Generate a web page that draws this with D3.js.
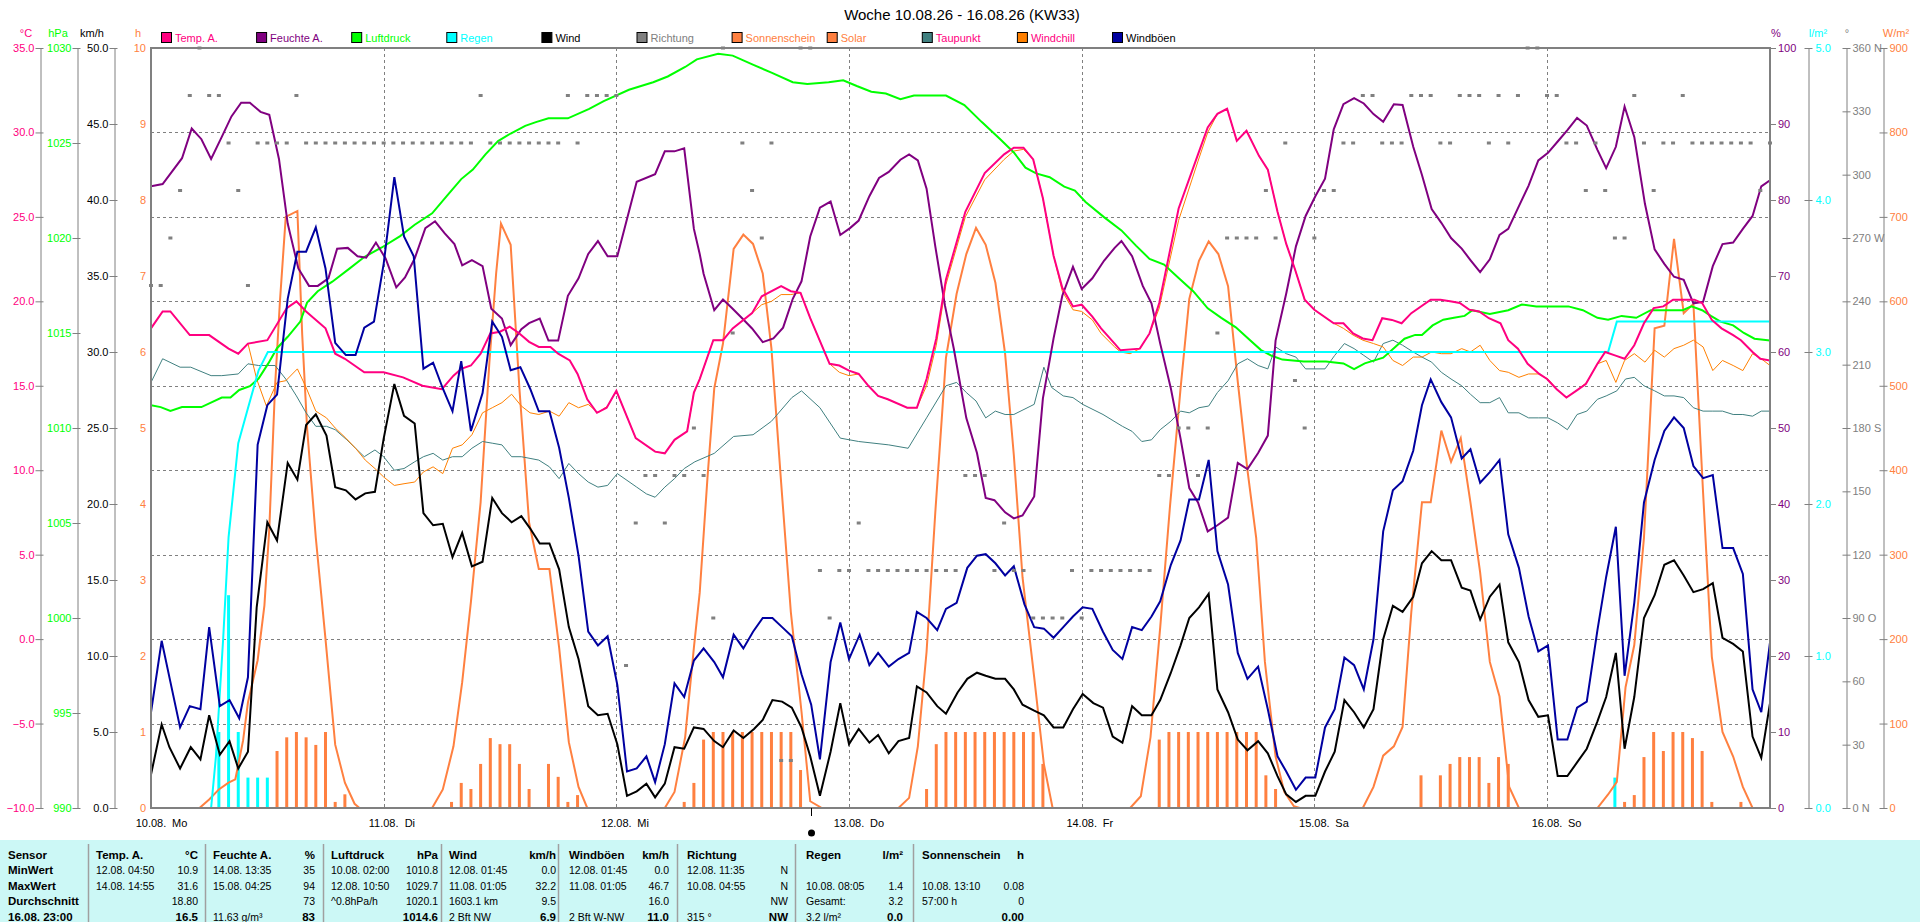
<!DOCTYPE html>
<html>
<head>
<meta charset="utf-8">
<title>Woche 10.08.26 - 16.08.26 (KW33)</title>
<script src="https://cdn.jsdelivr.net/npm/d3@7"></script>
<style>
  body { margin: 0; background: #fff; }
  svg { display: block; font-family: "Liberation Sans", Arial, sans-serif; }
</style>
</head>
<body>
<svg id="chart" width="1920" height="922"></svg>
<script>
// hours since 10.08. 00:00
const dayLabels = ['10.08.', '11.08.', '12.08.', '13.08.', '14.08.', '15.08.', '16.08.']
const weekDays = ['Mo', 'Di', 'Mi', 'Do', 'Fr', 'Sa', 'So']

const legendNames = ['Temp. A.', 'Feuchte A.', 'Luftdruck', 'Regen', 'Wind', 'Richtung', 'Sonnenschein', 'Solar', 'Taupunkt', 'Windchill', 'Windböen']
const legendBoxes = ['#ff0080', '#800080', '#00ff00', '#00ffff', '#000000', '#808080', '#ff8040', '#ff8040', '#408080', '#ff8000', '#0000a0']
const legendTexts = ['#ff0080', '#800080', '#00ff00', '#00ffff', '#000000', '#808080', '#ff8040', '#ff8040', '#ff0080', '#ff0080', '#000000']

const temp = [[0,18.4],[1.2,19.4],[2,19.4],[4,18.0],[6,18.0],[8,17.2],[9,16.9],[10,17.5],[12,17.7],[14,19.6],[15,20.0],[16,19.4],[18,18.4],[19,16.9],[20,16.6],[22,15.8],[24,15.8],[26,15.5],[28,15.0],[30,14.8],[31.2,15.6],[32,16.0],[33,16.2],[34,16.9],[35,18.1],[36,18.2],[37,18.5],[38,18.1],[39,17.6],[40,17.3],[41.2,17.3],[42,16.9],[43.2,16.5],[44,15.7],[45,14.2],[46,13.4],[47,13.7],[48,14.7],[50,11.9],[52,11.1],[53,11.0],[54,11.8],[55.3,12.3],[56,14.6],[56.6,15.4],[58,17.7],[59,17.7],[60,18.4],[62,19.3],[63,20.3],[65,20.9],[66,20.6],[67,20.5],[68,19.0],[70,16.3],[71,16.2],[72,15.9],[73,15.7],[74,15.0],[75,14.4],[76,14.2],[78,13.7],[79,13.7],[80,15.4],[81,17.8],[82,21.3],[84,25.3],[86,27.6],[88,28.7],[89,29.1],[90,29.1],[91,28.4],[92,26.1],[93.1,22.7],[94,20.8],[95.1,19.7],[96,19.8],[97.1,19.1],[98,18.4],[99.4,17.5],[100,17.1],[102,17.2],[103,18.1],[104,19.9],[106,25.5],[108,28.7],[109,30.3],[110,31.1],[111,31.4],[112,29.5],[113,30.1],[114.3,28.6],[115.2,27.8],[116.2,25.3],[117.1,23.4],[118,21.9],[119,20.1],[120,19.5],[122,18.7],[123,18.7],[124,18.1],[125,17.8],[126,17.7],[127,19.0],[128,18.9],[129,18.7],[130,19.3],[132,20.1],[133,20.1],[134,20.0],[135,19.9],[136,19.5],[137,19.4],[138,19.0],[139.2,18.7],[140,17.7],[141,17.2],[142,16.3],[143.2,15.7],[144,15.4],[145,14.8],[146,14.3],[147,14.7],[148,15.1],[149.2,16.3],[150,17.0],[151,16.8],[152,16.6],[153,17.4],[154,18.7],[155,19.6],[156,19.7],[157,20.1],[158,20.1],[159.2,20.1],[160,19.9],[161,18.9],[162,18.4],[163.2,18.0],[164,17.7],[165.2,17.0],[166,16.6],[167,16.5]]

const humidity = [[0,81.8],[1.2,82.1],[3.2,85.5],[4.2,89.4],[5.2,88.0],[6.2,85.4],[7.3,88.3],[8.3,91.0],[9.3,92.8],[10.2,92.8],[11.3,91.6],[12.2,91.2],[13.2,85.4],[14.1,76.9],[15.2,71.0],[16.3,68.7],[17.2,68.7],[18.3,69.7],[19.2,73.6],[20.3,73.7],[21.3,72.6],[22.2,72.4],[23.2,74.4],[24.2,72.3],[25.3,68.5],[26.2,69.8],[27.2,72.3],[28.3,76.3],[29.3,77.2],[30.3,75.6],[31.3,74.2],[32.1,71.4],[33.1,72.1],[34.2,71.3],[35.1,65.7],[36.2,64.4],[37.1,60.9],[38.2,63.0],[39,63.8],[40.1,64.4],[41,61.5],[42,61.5],[43,67.4],[44.1,69.7],[45.1,72.9],[46.1,74.6],[47.1,72.6],[48.1,72.6],[49.1,77.5],[50.1,82.4],[52,83.4],[53,86.4],[54,86.4],[55,86.8],[56,76.2],[56.6,72.9],[57,70.3],[58.1,65.5],[59,66.9],[60,65.7],[61,64.4],[62,63.1],[63.1,61.3],[64.2,61.8],[65.2,63.2],[66.2,67.0],[67.1,69.3],[68,75.2],[69,79.0],[70.1,79.8],[71.1,75.4],[72.1,76.3],[73,77.3],[74.1,80.5],[75.1,82.9],[76.1,83.7],[77.3,85.3],[78.2,86.0],[79.1,85.2],[80,81.5],[80.9,73.9],[81.9,66.1],[82.8,60.5],[84.1,51.3],[85.2,46.7],[86.1,40.8],[87,40.5],[88.1,38.9],[89,38.1],[89.9,38.5],[91.1,41.0],[92,53.9],[93.1,61.8],[94,67.4],[95.1,71.2],[96,68.3],[97.1,69.7],[98.3,72.0],[99.4,73.7],[100.1,74.6],[101.2,72.6],[102.3,68.7],[103.2,66.4],[104.1,61.1],[105.2,55.2],[106.2,48.6],[107.1,42.1],[108,40.2],[109,36.4],[110,37.2],[111.1,38.2],[112.1,45.4],[113.1,44.6],[114.2,46.7],[115.2,49.0],[116,61.5],[117.1,67.7],[118.1,73.9],[119.1,77.9],[120.1,80.5],[121.1,82.8],[122,89.3],[123,92.6],[124.1,93.4],[125.1,92.7],[126.1,91.3],[127.1,90.3],[128.2,92.6],[129.1,92.5],[130.2,87.0],[131.1,83.3],[132.1,78.8],[133.1,77.0],[134.1,75.0],[135.2,73.6],[136.1,72.1],[137.1,70.5],[138.1,72.2],[139.1,75.4],[140,76.2],[141.1,79.2],[142.1,81.9],[143.1,85.2],[144.1,86.2],[145.1,87.7],[146.1,89.2],[147.1,90.8],[148.1,89.8],[149.2,86.6],[150.1,84.2],[151.1,87.0],[152,92.3],[153,88.3],[154.1,79.5],[155.1,73.5],[156.1,71.6],[157.1,69.9],[158.1,69.5],[159.1,66.4],[160.1,66.6],[161.1,71.3],[162.1,74.2],[163.2,74.4],[164.2,76.2],[165.2,77.9],[166.1,81.8],[167,82.6]]

const pressure = [[0,1011.2],[1,1011.1],[2,1010.9],[3.2,1011.1],[5.2,1011.1],[7.3,1011.6],[8.2,1011.6],[9.1,1012.0],[10.2,1012.2],[11.1,1012.6],[12.1,1013.4],[13,1014.2],[14.1,1014.8],[15.4,1015.6],[16.1,1016.6],[17.2,1017.2],[18.7,1017.7],[20.5,1018.4],[22,1019.0],[23.8,1019.5],[25.7,1020.1],[27.2,1020.7],[29,1021.3],[30.5,1022.2],[32,1023.1],[33.2,1023.6],[34.5,1024.4],[35.8,1025.1],[37.1,1025.5],[38.6,1025.9],[39.7,1026.1],[41,1026.3],[43,1026.3],[45.2,1026.8],[46.7,1027.2],[49.3,1027.8],[51.8,1028.2],[53.3,1028.5],[55.1,1029.0],[56.3,1029.4],[58.5,1029.7],[60,1029.6],[62.2,1029.1],[64,1028.7],[66.2,1028.2],[67.7,1028.1],[69.9,1028.2],[71.4,1028.3],[72.8,1028.0],[74.3,1027.7],[75.8,1027.6],[77.3,1027.3],[78.7,1027.5],[82,1027.5],[83.9,1027.0],[85.7,1026.1],[87.6,1025.2],[89,1024.5],[90.2,1023.7],[91.3,1023.4],[92.7,1023.2],[94.2,1022.7],[95.3,1022.5],[96.4,1021.9],[98.3,1021.1],[100.1,1020.4],[101.6,1019.6],[103,1018.9],[104.5,1018.6],[106,1017.9],[107.5,1017.2],[109,1016.3],[110.4,1015.8],[111.9,1015.3],[113.4,1014.6],[114.5,1014.1],[115.6,1013.8],[116.7,1013.6],[118.9,1013.5],[121.2,1013.5],[123,1013.4],[124.1,1013.1],[125.2,1013.4],[127.1,1013.7],[128.2,1014.2],[129.3,1014.7],[130.4,1014.9],[131.1,1014.9],[132.2,1015.4],[133.3,1015.7],[134.4,1015.8],[135.5,1015.9],[136.3,1016.2],[138.1,1016.0],[140,1016.2],[141.4,1016.5],[142.9,1016.4],[144.7,1016.4],[146.2,1016.4],[147.7,1016.2],[149.2,1015.8],[150.3,1015.7],[151.7,1015.9],[153.2,1015.8],[154.7,1016.2],[156.5,1016.2],[158,1016.2],[158.9,1016.4],[160,1016.2],[160.9,1015.9],[161.9,1015.6],[163.2,1015.4],[164.3,1015.0],[165.4,1014.7],[167,1014.6]]

const rainTotal = [[0,0],[6.2,0],[6.7,0.34],[7.45,1.12],[8,1.78],[9,2.4],[10,2.63],[11.1,2.88],[12.05,3.0],[150.3,3.0],[151.2,3.2],[167,3.2]]
const rainHourly = [[7,0.5],[8,1.4],[9,0.5],[10,0.2],[11,0.2],[12,0.2],[151,0.2]]

const wind = [[0,2.2],[1.1,5.5],[1.9,4.0],[3,2.6],[4.1,4.0],[5.1,3.2],[6,6.1],[7.1,3.5],[8.1,4.4],[9,2.6],[10,3.7],[10.9,13.2],[12,18.8],[13,17.6],[14.1,22.7],[15.1,21.6],[16,25.2],[17,25.9],[18.1,24.5],[19,21.1],[20.1,20.9],[21.1,20.3],[22.1,20.7],[23.1,20.8],[24,24.3],[25.1,27.9],[26.1,25.8],[27.2,25.3],[28.1,19.4],[29.1,18.6],[30.1,18.7],[31.1,16.5],[32.1,18.1],[33.1,15.9],[34.2,16.2],[35.2,20.4],[36.2,19.4],[37.2,18.8],[38.2,19.2],[39.1,18.4],[40.1,17.4],[41.1,17.4],[42.1,15.7],[43.1,11.9],[44.1,9.8],[45.1,6.7],[46.1,6.1],[47.1,6.2],[48.1,4.2],[49.1,0.8],[50.1,1.1],[51.1,1.6],[52,0.7],[53,1.6],[54,4.0],[55,3.9],[56,5.3],[57,5.2],[58.1,4.4],[59,4.0],[60.1,5.1],[61.1,4.6],[62.2,5.2],[63.1,5.8],[64.1,7.1],[65.1,7.0],[66.1,6.6],[67.1,5.3],[68,3.4],[69,0.8],[70.1,3.7],[71.1,6.9],[72,4.2],[73,5.2],[74.1,4.3],[75,4.8],[76.1,3.6],[77.1,4.4],[78.2,4.6],[79,8.0],[80,7.6],[81.1,6.7],[82,6.2],[83.2,7.6],[84.2,8.5],[85.2,8.9],[86.1,8.7],[87.1,8.5],[88.1,8.5],[89,7.8],[89.9,6.8],[91.1,6.4],[92.1,6.1],[93.1,5.3],[94.1,5.3],[95.1,6.5],[96.1,7.5],[97.2,6.9],[98.2,6.6],[99.2,4.7],[100.2,4.3],[101.2,6.7],[102.2,6.1],[103.2,6.1],[104.1,7.1],[105.2,8.9],[106.2,10.7],[107.1,12.5],[108.1,13.2],[109.1,14.1],[110,7.8],[111.1,6.3],[112.1,4.5],[113.1,3.8],[114.2,4.4],[115.2,3.6],[116.2,2.1],[117.1,0.9],[118.1,0.4],[119.1,0.8],[120.1,0.8],[121.1,2.4],[122.1,3.7],[123.1,7.1],[124.1,6.3],[125.1,5.3],[126.1,6.5],[127.1,11.1],[128.1,13.3],[129.1,12.9],[130.2,13.9],[131.1,16.1],[132.1,16.9],[133.1,16.3],[134.1,16.3],[135.2,14.5],[136.1,14.3],[137.1,12.4],[138.1,13.9],[139.1,14.7],[140,10.9],[141.1,9.6],[142.1,7.1],[143.1,6.0],[144.1,6.1],[145.1,2.1],[146.1,2.1],[147.1,3.0],[148.1,3.9],[149.2,5.7],[150.1,7.3],[151.1,10.2],[152,3.9],[153,7.3],[154,12.5],[155.1,14.0],[156.1,16.0],[157.1,16.3],[158.1,15.3],[159.1,14.2],[160.1,14.4],[161.1,14.8],[162.1,11.2],[163.2,10.8],[164.2,10.3],[165.2,4.7],[166.1,3.3],[167,6.9]]

const gusts = [[0,6.3],[1.1,11.0],[2,8.3],[3,5.3],[4,6.7],[5.1,6.5],[6,11.9],[7.1,6.7],[8.1,7.1],[9.1,5.9],[10,8.6],[11,23.9],[12,26.5],[13,27.2],[14.1,33.5],[15.1,36.6],[16,36.6],[17,38.2],[18,35.5],[19,30.6],[20.1,29.8],[21.1,29.8],[22,31.6],[23,32.0],[24,35.8],[25.1,41.5],[26.1,37.6],[27.1,36.3],[28.1,28.9],[29.1,29.3],[30.1,27.6],[31.1,26.1],[32,29.4],[33,24.8],[34.2,27.3],[35.2,32.0],[36.2,31.0],[37.1,28.8],[38.1,29.0],[39.1,27.6],[40,26.1],[41.1,26.1],[42.1,23.7],[43.1,20.4],[44.1,16.6],[45.1,11.6],[46.1,10.7],[47.1,11.3],[48.1,8.1],[49.1,2.4],[50.1,2.6],[51.1,3.4],[52,1.7],[53,4.2],[54,8.2],[55,7.3],[56,9.7],[57,10.5],[58.1,9.6],[59,8.6],[60.1,11.4],[61.1,10.5],[62.1,11.6],[63.1,12.5],[64.1,12.5],[65.1,11.9],[66.1,11.3],[67.1,8.8],[68.1,6.8],[69,3.2],[70.1,9.6],[71.1,12.2],[72,9.8],[73.1,11.4],[74.1,9.4],[75,10.2],[76.1,9.3],[77.1,9.8],[78.2,10.2],[79,12.9],[80,12.5],[81.1,11.7],[82,13.1],[83.1,13.5],[84.2,15.8],[85.2,16.6],[86.1,16.7],[87.1,16.1],[88.1,15.3],[89,15.9],[90.1,13.4],[91.1,11.9],[92.1,11.8],[93.1,11.2],[94.1,11.9],[95.1,12.6],[96.1,13.2],[97.1,13.1],[98.2,11.6],[99.2,10.4],[100.2,9.8],[101.2,11.9],[102.2,11.7],[103.2,12.6],[104.1,13.6],[105.2,16.0],[106.2,17.6],[107.1,20.3],[108.1,20.3],[109.1,22.9],[110,16.9],[111.1,14.7],[112.1,10.2],[113.1,8.5],[114.2,9.3],[115.2,6.5],[116.2,3.4],[117.1,2.4],[118.1,1.2],[119.1,2.0],[120.1,2.0],[121.1,5.3],[122.1,6.5],[123.1,9.9],[124.1,9.4],[125.1,7.8],[126.1,11.1],[127.1,18.2],[128.1,20.9],[129.1,21.5],[130.2,23.5],[131.1,26.5],[132,28.2],[133.1,26.7],[134.1,25.7],[135.2,23.0],[136.1,23.6],[137.1,21.4],[138.1,22.1],[139.1,22.9],[140,18.0],[141.1,15.8],[142.1,12.6],[143.1,10.3],[144.1,10.7],[145.1,4.5],[146.1,4.5],[147.1,6.6],[148.1,7.0],[149.2,11.7],[150.1,15.2],[151.1,18.5],[152,8.7],[153,13.5],[154,20.1],[155.1,22.9],[156.1,24.8],[157.1,25.7],[158.1,25.0],[159.1,22.5],[160.1,21.7],[161.1,21.9],[162.1,17.1],[163.2,17.1],[164.2,15.4],[165.2,7.8],[166.1,6.3],[167,10.9]]

const solar = [[0,0],[5,0],[6,10],[7,22],[8,30],[8.7,34],[9.5,80],[10,125],[11,175],[11.7,240],[12.2,330],[12.8,500],[13.3,600],[13.9,700],[15.1,707],[15.6,560],[16.1,450],[17,320],[18,200],[19,75],[20,30],[21,5],[21.5,0],[29,0],[30.1,22],[31.2,73],[32.1,149],[33,244],[34,362],[34.9,527],[35.6,633],[36.1,692],[37.1,667],[38,497],[39,338],[40,283],[41.1,283],[42.1,190],[43.1,78],[44.1,25],[45,0],[53,0],[54,19],[55.1,84],[56,190],[56.6,255],[57.4,391],[58.1,497],[59,550],[60.1,662],[61.1,679],[62.1,668],[63.1,633],[64,544],[65,385],[66,232],[67.1,114],[68,8],[69.2,0],[77.1,0],[78.2,12],[79.1,73],[80,185],[80.9,350],[82,533],[83.1,609],[84.1,656],[85.1,687],[86.1,667],[87.1,622],[88.1,538],[89,418],[89.9,273],[91.1,155],[92.1,52],[93,0],[101,0],[102.1,14],[103.1,84],[104.1,214],[105.1,356],[106.2,497],[107.1,603],[108.1,648],[109.1,671],[110.1,656],[111.1,618],[112.1,505],[113.1,400],[114,320],[114.9,173],[116,61],[116.9,19],[117.9,2],[118.5,0],[125,0],[126.1,25],[127.1,62],[128.2,73],[129.1,96],[130,232],[131.1,362],[132,362],[133.1,447],[134.1,410],[135.1,438],[136.1,362],[137.1,279],[138.1,173],[139.1,132],[140.1,25],[141.1,0],[149.2,0],[150.3,16],[151.2,31],[152.1,143],[153,193],[154,320],[155.1,568],[156.1,571],[157.1,674],[158.1,586],[159.1,597],[160.1,373],[161,179],[162.1,90],[163.2,61],[164.2,25],[165.2,0],[167,0]]

const sunshine = [[13,0.75],[14,0.93],[15,1.0],[16,0.93],[17,0.83],[18,1.0],[19,0.08],[20,0.18],[31,0.08],[32,0.33],[33,0.25],[34,0.58],[35,0.92],[36,0.84],[37,0.84],[38,0.58],[39,0.25],[41,0.58],[42,0.41],[43,0.08],[44,0.17],[55,0.08],[56,0.33],[57,0.9],[58,1],[59,1],[60,1],[61,1],[62,1],[63,1],[64,1],[65,1],[66,1],[67,0.5],[80,0.25],[81,0.84],[82,1],[83,1],[84,1],[85,1],[86,1],[87,1],[88,1],[89,1],[90,1],[91,1],[92,0.58],[104,0.9],[105,1],[106,1],[107,1],[108,1],[109,1],[110,1],[111,1],[112,1],[113,1],[114,1],[115,0.43],[116,0.25],[131,0.43],[133,0.43],[134,0.58],[135,0.67],[136,0.67],[137,0.67],[138,0.33],[139,0.67],[140,0.58],[152,0.08],[153,0.17],[154,0.67],[155,1],[156,0.75],[157,1],[158,1],[159,0.92],[160,0.75],[161,0.08],[164,0.08]]

const dewPoint = [[0,15.2],[1.2,16.6],[3,16.1],[4.1,16.1],[6.2,15.6],[7.3,15.6],[9,15.7],[10,16.3],[11.1,16.2],[12.8,16.2],[13.9,15.4],[15,14.4],[16,13.4],[17,12.6],[18.1,12.6],[19,12.4],[20.2,11.8],[21.1,11.3],[22,10.8],[23.1,11.2],[24,10.8],[25.1,10.0],[26.1,10.1],[27.2,10.5],[28.1,10.8],[29.1,11.0],[30.1,10.6],[31.1,10.8],[32.1,10.8],[33.1,11.3],[34.2,11.7],[35.2,11.6],[36.2,11.5],[37.2,10.8],[38.2,10.8],[39.1,10.7],[40,10.6],[41.1,10.2],[42.1,9.5],[43.1,10.4],[44.1,9.8],[45.1,9.3],[46.1,9.0],[47.1,9.1],[48.1,9.8],[49.1,9.4],[50.1,9.0],[51.1,8.6],[52,8.4],[53,9.0],[54,9.5],[55,10.1],[56.1,10.5],[58.1,11.0],[60.1,12.0],[62.1,12.1],[64,12.9],[66.1,14.3],[67.1,14.7],[69,13.7],[71.1,11.9],[73,11.7],[76.1,11.5],[78.1,11.3],[80,13.1],[82,15.0],[83.1,15.2],[84.1,14.6],[85.1,14.1],[86.1,13.1],[87.1,13.5],[88.1,13.3],[89,13.3],[91.1,13.9],[92.1,16.1],[92.9,14.9],[94.1,14.4],[95.1,14.3],[96.1,13.9],[98.2,13.3],[100.2,12.6],[101.2,12.3],[102.2,11.7],[103.2,11.8],[104.1,12.4],[105.2,12.9],[106.2,13.5],[107.1,13.4],[108.1,13.7],[109.1,13.8],[110,14.6],[111.1,15.3],[112.1,16.3],[113.1,16.6],[114.2,16.2],[115.2,16.0],[116,17.3],[117.1,16.9],[118.1,16.7],[119.1,16.0],[121.1,16.0],[122.1,16.8],[123.1,17.5],[124.1,17.2],[125.1,16.8],[126.1,16.4],[127.1,17.5],[128.1,17.7],[129.1,17.4],[130.2,17.0],[131.1,16.7],[132.1,16.4],[133.1,15.8],[134.1,15.4],[135.2,15.0],[136.1,14.5],[137.1,14.0],[138.1,14.0],[139.1,14.3],[140,13.4],[141.1,13.4],[142.1,13.1],[143.1,13.1],[144.1,13.1],[145.1,12.8],[146.1,12.4],[147.1,13.3],[148.1,13.5],[149.2,14.2],[150.1,14.4],[151.2,14.7],[152.1,15.4],[153,15.5],[154,15.0],[155.1,14.7],[156.1,14.4],[157.1,14.4],[158.1,14.3],[159.1,13.7],[160.1,13.5],[161.1,13.5],[162.1,13.5],[163.2,13.3],[164.2,13.3],[165.2,13.2],[166.1,13.5],[167,13.5]]

const windchill = [[0,18.4],[1.2,19.4],[2,19.4],[4,18.0],[6,18.0],[8,17.2],[9,16.9],[10,17.5],[10.9,15.4],[11.9,13.8],[13,15.2],[13.9,15.3],[15.1,16.0],[16,14.9],[17,13.5],[18.1,13.1],[19,12.5],[20.1,11.9],[21.1,11.3],[22.1,10.6],[23.1,10.1],[24,9.6],[25.1,9.1],[26.1,9.2],[27.2,9.3],[28.1,9.9],[29.1,10.2],[30.1,9.8],[31.1,11.3],[32.1,11.5],[33.1,12.1],[34.2,13.4],[35.2,13.7],[36.2,14.0],[37.2,14.5],[38.2,13.8],[39.1,13.4],[40,13.3],[41.1,13.5],[42.1,13.2],[43.1,14.0],[44.1,13.7],[45.1,13.9],[46.1,13.4],[47.1,13.8],[48,14.7],[50,11.9],[52,11.1],[53,11.0],[54,11.8],[55.3,12.3],[56,14.6],[56.6,15.4],[58,17.7],[59,17.7],[60,18.4],[62,19.3],[63,19.8],[64,20.0],[65,20.4],[66,20.4],[67,20.5],[68,19.0],[70,16.3],[71,15.8],[72,15.6],[73,15.7],[74,15.0],[75,14.4],[76,14.2],[78,13.7],[79,13.7],[80,15.0],[81,17.4],[82,21.0],[84,25.0],[86,27.2],[88,28.4],[89,28.9],[90,29.0],[91,28.4],[92,26.1],[93.1,22.7],[94,20.6],[95.1,19.5],[96,19.4],[97.1,18.9],[98,18.1],[99.4,17.3],[100,17.0],[101,16.9],[102,17.2],[103,18.1],[104,19.6],[106,24.8],[108,28.3],[109,30.0],[110,31.1],[111,31.4],[112,29.5],[113,30.1],[114.3,28.6],[115.2,27.8],[116.2,25.3],[117.1,23.4],[118,21.9],[119,20.1],[120,19.5],[122,18.7],[123,18.4],[124,18.0],[125,17.7],[126.1,17.5],[127.1,17.3],[128.1,16.5],[129.1,16.2],[130.2,16.7],[131.1,16.7],[132.1,17.0],[133.1,16.9],[134.1,16.9],[135.2,17.2],[136.1,17.0],[137.1,17.4],[138.1,16.5],[139.1,15.9],[140,15.8],[141.1,15.5],[142.1,15.7],[143.1,15.7],[144.1,15.4],[145,14.8],[146,14.3],[147,14.7],[148.1,15.2],[149.2,16.3],[150.1,16.5],[151.1,15.2],[152,16.5],[153,16.9],[154.1,16.4],[155.1,17.1],[156.1,16.7],[157.1,17.2],[158.1,17.4],[159.1,17.7],[160.1,17.3],[161.1,15.9],[162.1,16.5],[163.2,16.2],[164.2,15.9],[165.2,16.9],[166.1,16.6],[167,16.2]]

// one direction reading per hour, 0..167
const direction = [
  247.5, 247.5, 270, 292.5, 337.5, 360, 337.5, 337.5, 315, 292.5, 247.5, 315,
  315, 315, 315, 337.5, 315, 315, 315, 315, 315, 315, 315, 315,
  315, 315, 315, 315, 315, 315, 315, 315, 315, 315, 337.5, 315,
  315, 315, 315, 315, 315, 315, 315, 337.5, 315, 337.5, 337.5, 337.5,
  337.5, 67.5, 135, 157.5, 157.5, 135, 157.5, 157.5, 180, 157.5, 90, 360,
  225, 315, 292.5, 270, 315, 22.5, 22.5, 360, 360, 112.5, 90, 112.5,
  112.5, 135, 112.5, 112.5, 112.5, 112.5, 112.5, 112.5, 112.5, 112.5, 112.5, 112.5,
  157.5, 157.5, 157.5, 112.5, 135, 112.5, 112.5, 90, 90, 90, 90, 112.5,
  90, 112.5, 112.5, 112.5, 112.5, 112.5, 112.5, 112.5, 157.5, 157.5, 180, 180,
  157.5, 180, 225, 270, 270, 270, 270, 292.5, 270, 315, 202.5, 180,
  270, 292.5, 292.5, 315, 315, 337.5, 337.5, 315, 315, 315, 337.5, 337.5,
  337.5, 315, 315, 337.5, 337.5, 337.5, 315, 337.5, 315, 337.5, 360, 360,
  337.5, 337.5, 315, 315, 292.5, 315, 292.5, 270, 270, 337.5, 315, 292.5,
  315, 315, 337.5, 315, 315, 315, 315, 315, 315, 315, 292.5, 315
]

// summary table
const tableCols = ['Temp. A.', 'Feuchte A.', 'Luftdruck', 'Wind', 'Windböen', 'Richtung', 'Regen', 'Sonnenschein']
const tableUnits = ['°C', '%', 'hPa', 'km/h', 'km/h', '', 'l/m²', 'h']
const rowLabels = ['MinWert', 'MaxWert', 'Durchschnitt', '16.08.  23:00']
const minRow = [['12.08.  04:50', '10.9'], ['14.08.  13:35', '35'], ['10.08.  02:00', '1010.8'], ['12.08.  01:45', '0.0'], ['12.08.  01:45', '0.0'], ['12.08.  11:35', 'N'], ['', ''], ['', '']]
const maxRow = [['14.08.  14:55', '31.6'], ['15.08.  04:25', '94'], ['12.08.  10:50', '1029.7'], ['11.08.  01:05', '32.2'], ['11.08.  01:05', '46.7'], ['10.08.  04:55', 'N'], ['10.08.  08:05', '1.4'], ['10.08.  13:10', '0.08']]
const avgRow = [['', '18.80'], ['', '73'], ['^0.8hPa/h', '1020.1'], ['1603.1 km', '9.5'], ['', '16.0'], ['', 'NW'], ['Gesamt:', '3.2'], ['57:00 h', '0']]
const nowRow = [['', '16.5'], [' 11.63 g/m³', '83'], ['', '1014.6'], [' 2 Bft NW', '6.9'], [' 2 Bft W-NW', '11.0'], [' 315 °', 'NW'], [' 3.2 l/m²', '0.0'], ['', '0.00']]

// ---------------------------------------------------------------------------
const svg = d3.select('#chart')
const pLeft = 151, pRight = 1770, pTop = 48, pBottom = 808
const font = '"Liberation Sans", Arial, sans-serif'

const x = d3.scaleLinear().domain([0, 167]).range([pLeft, pRight])
const yTemp = d3.scaleLinear().domain([-10, 35]).range([pBottom, pTop])
const yPres = d3.scaleLinear().domain([990, 1030]).range([pBottom, pTop])
const yWind = d3.scaleLinear().domain([0, 50]).range([pBottom, pTop])
const ySun = d3.scaleLinear().domain([0, 10]).range([pBottom, pTop])
const yHum = d3.scaleLinear().domain([0, 100]).range([pBottom, pTop])
const yRain = d3.scaleLinear().domain([0, 5]).range([pBottom, pTop])
const yDir = d3.scaleLinear().domain([0, 360]).range([pBottom, pTop])
const ySolar = d3.scaleLinear().domain([0, 900]).range([pBottom, pTop])

// title + legend
svg.append('text').attr('x', 962).attr('y', 20).attr('text-anchor', 'middle')
  .attr('font-size', 15).attr('fill', '#000').text('Woche 10.08.26 - 16.08.26 (KW33)')

const legend = svg.append('g').selectAll('g').data(legendNames).join('g')
  .attr('transform', (d, i) => `translate(${161 + i * 95.1},0)`)
legend.append('rect').attr('x', 0.5).attr('y', 32.5).attr('width', 10).attr('height', 10)
  .attr('fill', (d, i) => legendBoxes[i]).attr('stroke', '#000')
legend.append('text').attr('x', 14).attr('y', 42).attr('font-size', 11)
  .attr('fill', (d, i) => legendTexts[i]).text(d => d)

// grid
const grid = svg.append('g').attr('stroke', '#808080').attr('stroke-dasharray', '3,3')
grid.selectAll('line.h').data(d3.range(-5, 35, 5)).join('line').attr('class', 'h')
  .attr('x1', pLeft).attr('x2', pRight)
  .attr('y1', d => Math.round(yTemp(d)) + 0.5).attr('y2', d => Math.round(yTemp(d)) + 0.5)
grid.selectAll('line.v').data(d3.range(24, 167, 24)).join('line').attr('class', 'v')
  .attr('y1', pTop).attr('y2', pBottom)
  .attr('x1', d => Math.round(x(d)) + 0.5).attr('x2', d => Math.round(x(d)) + 0.5)

// axes
function styleAxis(g, color, showDomain) {
  g.attr('font-family', font).attr('font-size', 11)
  g.select('.domain').attr('stroke', showDomain ? '#808080' : 'none')
  g.selectAll('.tick line').attr('stroke', '#808080')
  g.selectAll('.tick text').attr('fill', color)
}
function leftAxis(scale, xPos, values, fmt, color, size, pad, showDomain) {
  const g = svg.append('g').attr('transform', `translate(${xPos},0)`)
    .call(d3.axisLeft(scale).tickValues(values).tickFormat(fmt)
      .tickSizeInner(size).tickSizeOuter(0).tickPadding(pad))
  styleAxis(g, color, showDomain)
  if (size > 0) g.selectAll('.tick line').attr('x1', 3)
}
function rightAxis(scale, xPos, values, fmt, color, size, pad, showDomain) {
  const g = svg.append('g').attr('transform', `translate(${xPos},0)`)
    .call(d3.axisRight(scale).tickValues(values).tickFormat(fmt)
      .tickSizeInner(size).tickSizeOuter(0).tickPadding(pad))
  styleAxis(g, color, showDomain)
  if (showDomain) g.selectAll('.tick line').attr('x1', -4)
}

leftAxis(yTemp, 40.5, d3.range(-10, 36, 5), d3.format('.1f'), '#ff0080', 5, 1, true)
leftAxis(yPres, 77.5, d3.range(990, 1031, 5), d3.format('d'), '#00ff00', 5, 1, true)
leftAxis(yWind, 114.5, d3.range(0, 51, 5), d3.format('.1f'), '#000000', 5, 1, true)
leftAxis(d3.scaleLinear().domain([0, 10]).range([pBottom, pTop]), 151, d3.range(0, 11), d3.format('d'), '#ff8040', 0, 5, false)

rightAxis(yHum, 1770, d3.range(0, 101, 10), d3.format('d'), '#800080', 6, 2, false)
rightAxis(yRain, 1808.5, d3.range(0, 5.1, 1), d3.format('.1f'), '#00ffff', 4, 3, true)
const dirNames = { 0: ' N', 90: ' O', 180: ' S', 270: ' W', 360: ' N' }
rightAxis(yDir, 1846.5, d3.range(0, 361, 30), d => d + (dirNames[d] || ''), '#808080', 4, 2, true)
rightAxis(ySolar, 1883.5, d3.range(0, 901, 100), d3.format('d'), '#ff8040', 4, 2, true)

// unit headers
const units = [['°C', 26, '#ff0080'], ['hPa', 58, '#00ff00'], ['km/h', 92, '#000'], ['h', 138, '#ff8040'],
  ['%', 1776, '#800080'], ['l/m²', 1818, '#00ffff'], ['°', 1847, '#808080'], ['W/m²', 1896, '#ff8040']]
svg.append('g').selectAll('text').data(units).join('text')
  .attr('x', d => d[1]).attr('y', 37).attr('text-anchor', 'middle')
  .attr('font-size', 11).attr('fill', d => d[2]).text(d => d[0])

// day labels
const days = svg.append('g').attr('font-size', 11).attr('fill', '#000')
days.selectAll('text.d').data(dayLabels).join('text').attr('class', 'd')
  .attr('x', (d, i) => x(i * 24)).attr('y', 827).attr('text-anchor', 'middle').text(d => d)
days.selectAll('text.w').data(weekDays).join('text').attr('class', 'w')
  .attr('x', (d, i) => x(i * 24) + 21).attr('y', 827).text(d => d)

// plot content
svg.append('clipPath').attr('id', 'plot').append('rect')
  .attr('x', pLeft).attr('y', pTop).attr('width', pRight - pLeft).attr('height', pBottom - pTop)
const plot = svg.append('g').attr('clip-path', 'url(#plot)')

plot.append('g').selectAll('rect').data(sunshine).join('rect')
  .attr('x', d => x(d[0]) - 1.5).attr('width', 3)
  .attr('y', d => ySun(d[1])).attr('height', d => pBottom - ySun(d[1]))
  .attr('fill', '#ff8040')
plot.append('g').selectAll('rect').data(rainHourly).join('rect')
  .attr('x', d => x(d[0]) - 1.5).attr('width', 3)
  .attr('y', d => yRain(d[1])).attr('height', d => pBottom - yRain(d[1]))
  .attr('fill', '#00ffff')

function drawLine(data, yScale, color, width) {
  const line = d3.line().x(d => x(d[0])).y(d => yScale(d[1]))
  plot.append('path').datum(data).attr('d', line)
    .attr('fill', 'none').attr('stroke', color).attr('stroke-width', width)
}
drawLine(solar, ySolar, '#ff8040', 2)
drawLine(dewPoint, yTemp, '#408080', 1)
drawLine(windchill, yTemp, '#ff8000', 1)
drawLine(pressure, yPres, '#00ff00', 2)
drawLine(rainTotal, yRain, '#00ffff', 2)
drawLine(humidity, yHum, '#800080', 2)
drawLine(temp, yTemp, '#ff0080', 2)
drawLine(wind, yWind, '#000000', 2)
drawLine(gusts, yWind, '#0000a0', 2)

svg.append('g').selectAll('rect').data(direction).join('rect')
  .attr('x', (d, i) => x(i) - 2).attr('y', d => yDir(d) - 1.5)
  .attr('width', 4).attr('height', 3).attr('fill', '#808080')

// frame
svg.append('rect').attr('x', pLeft).attr('y', pTop).attr('width', pRight - pLeft).attr('height', pBottom - pTop)
  .attr('fill', 'none').attr('stroke', '#808080').attr('stroke-width', 2)

// marker under the axis
svg.append('line').attr('x1', 811.5).attr('x2', 811.5).attr('y1', pBottom).attr('y2', 816).attr('stroke', '#000')
svg.append('circle').attr('cx', 811.5).attr('cy', 833).attr('r', 3.5).attr('fill', '#000')

// summary table
const tableTop = 840
svg.append('rect').attr('x', 0).attr('y', tableTop).attr('width', 1920).attr('height', 922 - tableTop).attr('fill', '#ccf8f6')
const colLeft = [96, 213, 331, 449, 569, 687, 806, 922]
const colRight = [198, 315, 438, 556, 669, 788, 903, 1024]
const separators = [88, 205, 323, 441, 558, 677, 795, 913]
svg.append('g').selectAll('line').data(separators).join('line')
  .attr('x1', d => d + 0.5).attr('x2', d => d + 0.5).attr('y1', 844).attr('y2', 922)
  .attr('stroke', '#a0a0a0').attr('stroke-width', 1.5)

const table = svg.append('g').attr('font-size', 10.5).attr('fill', '#000').style('white-space', 'pre')
const rowY = [859, 874, 890, 905, 920.5]
table.append('text').attr('x', 8).attr('y', rowY[0]).attr('font-weight', 'bold').attr('font-size', 11.5).text('Sensor')
rowLabels.forEach((label, i) => {
  table.append('text').attr('x', 8).attr('y', rowY[i + 1]).attr('font-weight', 'bold').attr('font-size', 11.5).text(label)
})
tableCols.forEach((name, c) => {
  table.append('text').attr('x', colLeft[c]).attr('y', rowY[0]).attr('font-weight', 'bold').attr('font-size', 11.5).text(name)
  table.append('text').attr('x', colRight[c]).attr('y', rowY[0]).attr('text-anchor', 'end')
    .attr('font-weight', 'bold').attr('font-size', 11.5).text(tableUnits[c])
})
const tableRows = [minRow, maxRow, avgRow, nowRow]
tableRows.forEach((row, r) => {
  row.forEach((cell, c) => {
    table.append('text').attr('x', colLeft[c]).attr('y', rowY[r + 1]).text(cell[0])
    table.append('text').attr('x', colRight[c]).attr('y', rowY[r + 1]).attr('text-anchor', 'end')
      .attr('font-weight', r === 3 ? 'bold' : 'normal').attr('font-size', r === 3 ? 11.5 : 10.5).text(cell[1])
  })
})
</script>
</body>
</html>
